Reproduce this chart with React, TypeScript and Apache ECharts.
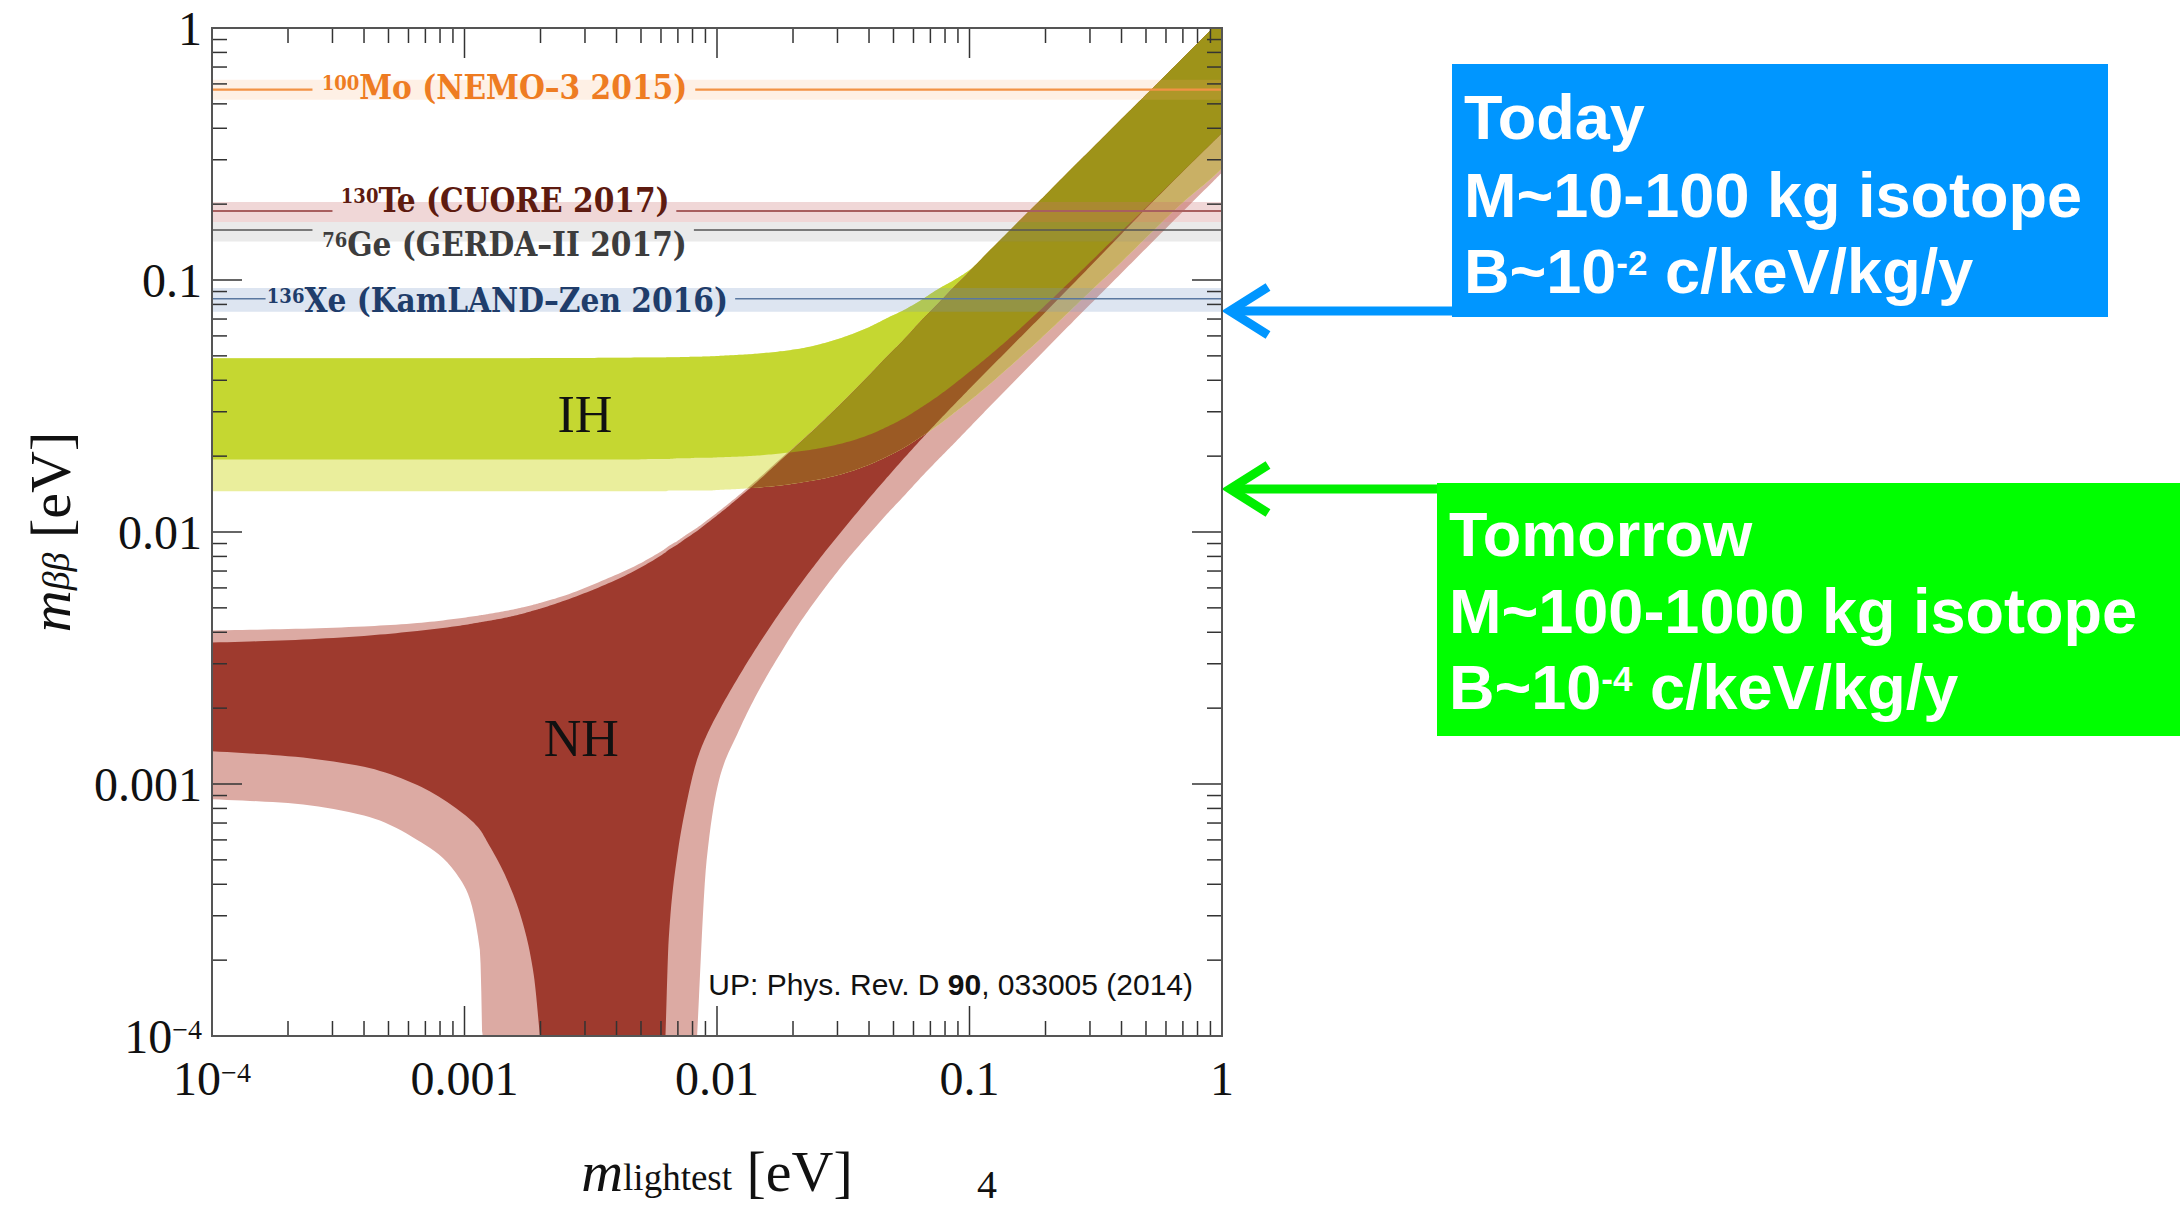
import React, { useEffect, useRef } from "react";
import * as echarts from "echarts";

// ---------------- data ----------------
// lightest neutrino mass grid [eV]
const mLightest = [
  1e-4, 2e-4, 4e-4, 6.5e-4, 9.6e-4, 1.15e-3, 1.23e-3, 1.47e-3, 1.71e-3, 1.88e-3, 1.99e-3,
  2.5e-3, 3.5e-3, 4.7e-3, 5.8e-3, 6.25e-3, 6.44e-3, 6.95e-3, 7.5e-3, 8.34e-3, 9.1e-3, 1.03e-2,
  1.2e-2, 1.44e-2, 1.78e-2, 2.13e-2, 2.56e-2, 3.2e-2, 4.0e-2, 4.7e-2, 5.5e-2, 6.4e-2, 7.5e-2, 8.7e-2,
  0.1, 0.117, 0.14, 0.16, 0.2, 0.25, 0.3, 0.4, 0.5, 0.7, 0.92, 1.0,
];

// Normal hierarchy, full (3 sigma) range
const nhRangeLow = [
  0.00087, 0.00084, 0.00075, 0.0006, 0.00042, 0.00022, 0.00001, 0.00001, 0.00001, 0.00001, 0.00001,
  0.00001, 0.00001, 0.00001, 0.00001, 0.00001, 0.00001, 0.00001, 0.00001, 0.0001, 0.0005, 0.00108,
  0.00157, 0.00228, 0.00329, 0.00437, 0.00566, 0.00755, 0.0098, 0.01175, 0.0139, 0.0164, 0.01935, 0.0225,
  0.026, 0.0306, 0.0368, 0.0422, 0.053, 0.0665, 0.0799, 0.1066, 0.1335, 0.187, 0.2456, 0.267,
];
const nhRangeHigh = [
  0.00407, 0.00412, 0.00422, 0.00435, 0.00455, 0.00467, 0.00472, 0.00487, 0.00503, 0.00515, 0.00523,
  0.0056, 0.0064, 0.0073, 0.0082, 0.0086, 0.0088, 0.0092, 0.0097, 0.0104, 0.0111, 0.0122,
  0.0138, 0.0161, 0.0195, 0.0228, 0.027, 0.0335, 0.042, 0.0497, 0.0582, 0.0687, 0.0807, 0.0942,
  0.1082, 0.1272, 0.1522, 0.1742, 0.2172, 0.2722, 0.3262, 0.4352, 0.5432, 0.7602, 1.0, 1.09,
];
// Normal hierarchy, best-fit band
const nhBestLow = [
  0.00135, 0.00129, 0.00117, 0.00099, 0.00078, 0.00066, 0.00059, 0.00042, 0.000276, 0.000175, 0.0001,
  0.00001, 0.00001, 0.00001, 0.00001, 0.0001, 0.000244, 0.000514, 0.0008, 0.00125, 0.00156, 0.00199,
  0.0026, 0.0035, 0.00481, 0.00618, 0.00788, 0.0104, 0.0136, 0.0164, 0.0196, 0.02317, 0.02745, 0.03206,
  0.037, 0.0434, 0.05208, 0.0596, 0.0746, 0.09375, 0.1131, 0.1524, 0.192, 0.2695, 0.3528, 0.383,
];
const nhBestHigh = [
  0.00364, 0.00372, 0.00387, 0.00405, 0.00425, 0.00438, 0.00443, 0.00458, 0.00475, 0.00488, 0.00496,
  0.00535, 0.0061, 0.007, 0.0079, 0.0083, 0.0085, 0.0089, 0.0094, 0.0101, 0.0108, 0.0119,
  0.0135, 0.0158, 0.0192, 0.0226, 0.0268, 0.0333, 0.0418, 0.0495, 0.058, 0.0685, 0.0805, 0.094,
  0.108, 0.127, 0.152, 0.174, 0.217, 0.272, 0.326, 0.435, 0.543, 0.76, 1.0, 1.09,
];
// Inverted hierarchy, full (3 sigma) range
const ihRangeLow = [
  0.0145, 0.0145, 0.0145, 0.0145, 0.0145, 0.0145, 0.0145, 0.0145, 0.0145, 0.0145, 0.0145,
  0.0145, 0.0145, 0.0145, 0.0145, 0.0145, 0.0146, 0.0146, 0.0146, 0.0146, 0.0146, 0.0147,
  0.0148, 0.015, 0.0153, 0.0157, 0.0162, 0.0171, 0.0185, 0.0199, 0.0216, 0.0238, 0.0265, 0.0297,
  0.0331, 0.0377, 0.0441, 0.0497, 0.061, 0.0754, 0.0898, 0.118, 0.147, 0.203, 0.256, 0.277,
];
const ihRangeHigh = [
  0.0489, 0.0489, 0.0489, 0.0489, 0.0489, 0.0489, 0.0489, 0.0489, 0.0489, 0.049, 0.049,
  0.049, 0.0491, 0.0492, 0.0493, 0.0493, 0.0494, 0.0494, 0.0495, 0.0496, 0.0497, 0.05,
  0.0504, 0.051, 0.0521, 0.0534, 0.0556, 0.0595, 0.065, 0.0705, 0.076, 0.083, 0.092, 0.1,
  0.1095, 0.1275, 0.1525, 0.1745, 0.2175, 0.2725, 0.3265, 0.4355, 0.5435, 0.7605, 1.0, 1.09,
];
// Inverted hierarchy, best-fit band
const ihBestLow = [
  0.0194, 0.0194, 0.0194, 0.0194, 0.0194, 0.0194, 0.0194, 0.0194, 0.0194, 0.0194, 0.0194,
  0.0194, 0.0194, 0.0194, 0.0195, 0.0195, 0.0195, 0.0196, 0.0196, 0.0197, 0.0197, 0.0198,
  0.0199, 0.0201, 0.0205, 0.0209, 0.0215, 0.0226, 0.0243, 0.0261, 0.0283, 0.0311, 0.0346, 0.0387,
  0.0432, 0.0491, 0.0573, 0.0646, 0.0795, 0.0985, 0.1175, 0.156, 0.194, 0.27, 0.353, 0.383,
];
const ihBestHigh = [
  0.0489, 0.0489, 0.0489, 0.0489, 0.0489, 0.0489, 0.0489, 0.0489, 0.0489, 0.049, 0.049,
  0.049, 0.0491, 0.0492, 0.0493, 0.0493, 0.0494, 0.0494, 0.0495, 0.0496, 0.0497, 0.05,
  0.0504, 0.051, 0.0521, 0.0534, 0.0556, 0.0595, 0.065, 0.0705, 0.076, 0.083, 0.092, 0.1,
  0.1095, 0.1275, 0.1525, 0.1745, 0.2175, 0.2725, 0.3265, 0.4355, 0.5435, 0.7605, 1.0, 1.09,
];

// experimental limits on m_bb [eV]
const limitIsotopes = ["100", "130", "76", "136"];
const limitNames = ["Mo (NEMO–3 2015)", "Te (CUORE 2017)", "Ge (GERDA–II 2017)", "Xe (KamLAND–Zen 2016)"];
const limitCentral = [0.569, 0.188, 0.158, 0.0843];
const limitLow = [0.519, 0.17, 0.142, 0.0748];
const limitHigh = [0.623, 0.204, 0.17, 0.0929];

const decadeTicks = [1e-4, 1e-3, 1e-2, 1e-1, 1];
const minorMultipliers = [2, 3, 4, 5, 6, 7, 8, 9];
const regionLabels = ["IH", "NH"];

// ---------------- layout / styles ----------------
const X_MIN = 1e-4, X_MAX = 1, Y_MIN = 1e-4, Y_MAX = 1;
const SERIF = '"Liberation Serif", "Times New Roman", serif';
const COND = '"DejaVu Serif Condensed", "DejaVu Serif", serif';
const SANS = '"Liberation Sans", Arial, Helvetica, sans-serif';

const limitStyle = [
  { band: "rgba(247,170,110,0.18)", line: "#f29245", lw: 2.2, text: "#ee7c22" },
  { band: "rgba(200,110,110,0.28)", line: "#a85f5f", lw: 2, text: "#5e1b10" },
  { band: "rgba(140,140,140,0.18)", line: "#555555", lw: 1.6, text: "#3d3d3d" },
  { band: "rgba(120,150,200,0.25)", line: "#5a78a0", lw: 1.6, text: "#1f3d6b" },
];
const limitLabelAt = [[0.00144, 0.578], [0.00145, 0.206], [0.00144, 0.138], [0.00135, 0.0829]];
const limitGap = [[2.5e-4, 0.0082], [3.0e-4, 0.0069], [2.5e-4, 0.0081], [1.63e-4, 0.0118]];
const regionLabelAt = [[0.003, 0.0293], [0.0029, 0.00152]];

// ---------------- smooth drawing of the band edges (monotone cubic in log-log) ----------------
const LX = mLightest.map((v) => Math.log10(v));
const SUB = 10;
const DX: number[] = (() => {
  const out: number[] = [];
  for (let k = 0; k < LX.length - 1; k++) for (let s = 0; s < SUB; s++) out.push(LX[k] + ((LX[k + 1] - LX[k]) * s) / SUB);
  out.push(LX[LX.length - 1]);
  return out;
})();
function smoothLog(ys: number[]): number[] {
  const n = LX.length;
  const Y = ys.map((v) => Math.log10(v));
  const d: number[] = [];
  for (let k = 0; k < n - 1; k++) d.push((Y[k + 1] - Y[k]) / (LX[k + 1] - LX[k]));
  const m: number[] = new Array(n).fill(0);
  m[0] = d[0];
  m[n - 1] = d[n - 2];
  for (let k = 1; k < n - 1; k++) {
    if (d[k - 1] * d[k] <= 0) m[k] = 0;
    else {
      const h0 = LX[k] - LX[k - 1], h1 = LX[k + 1] - LX[k];
      const w1 = 2 * h1 + h0, w2 = h1 + 2 * h0;
      m[k] = (w1 + w2) / (w1 / d[k - 1] + w2 / d[k]);
    }
  }
  const out: number[] = [];
  for (let k = 0; k < n - 1; k++) {
    const h = LX[k + 1] - LX[k];
    for (let s = 0; s < SUB; s++) {
      const t = s / SUB, t2 = t * t, t3 = t2 * t;
      out.push(
        (2 * t3 - 3 * t2 + 1) * Y[k] + (t3 - 2 * t2 + t) * h * m[k] + (-2 * t3 + 3 * t2) * Y[k + 1] + (t3 - t2) * h * m[k + 1]
      );
    }
  }
  out.push(Y[n - 1]);
  return out;
}
const LYMIN = Math.log10(Y_MIN), LYMAX = Math.log10(Y_MAX);
const clampL = (v: number) => Math.min(LYMAX, Math.max(LYMIN, v));

function intersect(aLo: number[], aHi: number[], bLo: number[], bHi: number[]) {
  const lo = aLo.map((v, i) => Math.max(v, bLo[i]));
  const hi = aHi.map((v, i) => Math.max(lo[i], Math.min(v, bHi[i])));
  return [lo, hi];
}

function bandSeries(name: string, lo: number[], hi: number[], color: string) {
  return {
    type: "custom",
    name,
    silent: true,
    coordinateSystem: "cartesian2d",
    data: [[0.01, 0.01]],
    renderItem: (_p: any, api: any) => {
      const pts: number[][] = [];
      for (let i = 0; i < DX.length; i++) pts.push(api.coord([Math.pow(10, DX[i]), Math.pow(10, clampL(hi[i]))]));
      for (let i = DX.length - 1; i >= 0; i--) pts.push(api.coord([Math.pow(10, DX[i]), Math.pow(10, clampL(lo[i]))]));
      return { type: "polygon", shape: { points: pts }, style: { fill: color } };
    },
  };
}

function limitSeries(k: number) {
  const st = limitStyle[k];
  return {
    type: "custom",
    name: limitIsotopes[k] + limitNames[k],
    silent: true,
    coordinateSystem: "cartesian2d",
    data: [[0.01, limitCentral[k]]],
    renderItem: (_p: any, api: any) => {
      const tl = api.coord([X_MIN, limitHigh[k]]);
      const br = api.coord([X_MAX, limitLow[k]]);
      const ly = api.coord([X_MIN, limitCentral[k]])[1];
      const g0 = api.coord([limitGap[k][0], limitCentral[k]])[0];
      const g1 = api.coord([limitGap[k][1], limitCentral[k]])[0];
      const lp = api.coord(limitLabelAt[k]);
      return {
        type: "group",
        children: [
          { type: "rect", shape: { x: tl[0], y: tl[1], width: br[0] - tl[0], height: br[1] - tl[1] }, style: { fill: st.band } },
          { type: "line", shape: { x1: tl[0], y1: ly, x2: g0, y2: ly }, style: { stroke: st.line, lineWidth: st.lw } },
          { type: "line", shape: { x1: g1, y1: ly, x2: br[0], y2: ly }, style: { stroke: st.line, lineWidth: st.lw } },
          {
            type: "text",
            x: lp[0],
            y: lp[1],
            style: {
              text: `{s|${limitIsotopes[k]}}{m|${limitNames[k]}}`,
              align: "center",
              verticalAlign: "middle",
              rich: {
                s: { fontSize: 20, fontWeight: "bold", fontFamily: COND, fill: st.text, color: st.text, lineHeight: 20, verticalAlign: "top" },
                m: { fontSize: 33, fontWeight: "bold", fontFamily: COND, fill: st.text, color: st.text, lineHeight: 29 },
              },
            },
          },
        ],
      };
    },
  };
}

const regionLabelSeries = {
  type: "custom",
  name: "labels",
  silent: true,
  coordinateSystem: "cartesian2d",
  data: [[0.01, 0.01]],
  renderItem: (_p: any, api: any) => ({
    type: "group",
    children: regionLabels.map((t, i) => {
      const c = api.coord(regionLabelAt[i]);
      return {
        type: "text",
        x: c[0],
        y: c[1],
        style: { text: t, fontSize: 52, fontFamily: SERIF, fill: "#111", align: "center", verticalAlign: "middle" },
      };
    }),
  }),
};

const frameSeries = {
  type: "custom",
  name: "frame",
  silent: true,
  coordinateSystem: "cartesian2d",
  data: [[0.01, 0.01]],
  renderItem: (_p: any, api: any) => {
    const [x0, y0] = api.coord([X_MIN, Y_MIN]);
    const [x1, y1] = api.coord([X_MAX, Y_MAX]);
    const children: any[] = [];
    const tick = { stroke: "#333", lineWidth: 1.5 };
    const addTicks = (v: number, len: number) => {
      const x = api.coord([v, Y_MIN])[0];
      const y = api.coord([X_MIN, v])[1];
      children.push({ type: "line", shape: { x1: x, y1: y0, x2: x, y2: y0 - len }, style: tick });
      children.push({ type: "line", shape: { x1: x, y1: y1, x2: x, y2: y1 + len }, style: tick });
      children.push({ type: "line", shape: { x1: x0, y1: y, x2: x0 + len, y2: y }, style: tick });
      children.push({ type: "line", shape: { x1: x1, y1: y, x2: x1 - len, y2: y }, style: tick });
    };
    decadeTicks.slice(0, 4).forEach((d, i) => {
      if (i > 0) addTicks(d, 30);
      minorMultipliers.forEach((m) => addTicks(m * d, 15));
    });
    children.push({
      type: "rect",
      shape: { x: x0, y: y1, width: x1 - x0, height: y0 - y1 },
      style: { fill: "none", stroke: "#555", lineWidth: 2 },
    });
    return { type: "group", children };
  },
};

const tickLabel = (v: number) => {
  const e = Math.round(Math.log10(v));
  if (e === -4) return "{n|10}{s|−4}";
  const map: Record<number, string> = { [-3]: "0.001", [-2]: "0.01", [-1]: "0.1", [0]: "1" };
  return `{n|${map[e] ?? ""}}`;
};
const tickRich = {
  n: { fontSize: 48, fontFamily: SERIF, color: "#111", lineHeight: 41 },
  s: { fontSize: 28, fontFamily: SERIF, color: "#111", lineHeight: 28, verticalAlign: "top" },
};
const titleRich = {
  m: { fontSize: 58, fontFamily: SERIF, fontStyle: "italic", color: "#111", lineHeight: 50 },
  si: { fontSize: 38, fontFamily: SERIF, fontStyle: "italic", color: "#111", lineHeight: 8, verticalAlign: "bottom" },
  sr: { fontSize: 37, fontFamily: SERIF, color: "#111", lineHeight: 8, verticalAlign: "bottom" },
  u: { fontSize: 58, fontFamily: SERIF, color: "#111", lineHeight: 50 },
};

function boxText(x: number, y: number, text: string) {
  return {
    type: "text",
    x,
    y,
    style: { text, fontSize: 63, fontWeight: "bold", fontFamily: SANS, fill: "#ffffff", align: "left", verticalAlign: "middle" },
  };
}
function boxSupText(x: number, y: number, a: string, sup: string, b: string) {
  return {
    type: "text",
    x,
    y,
    style: {
      text: `{n|${a}}{s|${sup}}{n|${b}}`,
      align: "left",
      verticalAlign: "middle",
      rich: {
        n: { fontSize: 63, fontWeight: "bold", fontFamily: SANS, fill: "#fff", color: "#fff", lineHeight: 51 },
        s: { fontSize: 35, fontWeight: "bold", fontFamily: SANS, fill: "#fff", color: "#fff", lineHeight: 35, verticalAlign: "top" },
      },
    },
  };
}
function arrow(tipX: number, y: number, endX: number, color: string) {
  return [
    { type: "line", shape: { x1: tipX + 4, y1: y, x2: endX, y2: y }, style: { stroke: color, lineWidth: 9 } },
    {
      type: "polyline",
      shape: { points: [[tipX + 42, y - 24], [tipX + 4, y], [tipX + 42, y + 24]] },
      style: { stroke: color, lineWidth: 9, fill: "none" },
    },
  ];
}

export default function App() {
  const ref = useRef<HTMLDivElement>(null);
  useEffect(() => {
    if (!ref.current) return;
    const chart = echarts.init(ref.current, null, { renderer: "svg" });
    const nrLo = smoothLog(nhRangeLow), nrHi = smoothLog(nhRangeHigh);
    const nbLo = smoothLog(nhBestLow), nbHi = smoothLog(nhBestHigh);
    const irLo = smoothLog(ihRangeLow), irHi = smoothLog(ihRangeHigh);
    const ibLo = smoothLog(ihBestLow), ibHi = smoothLog(ihBestHigh);
    const [tanLo, tanHi] = intersect(irLo, irHi, nrLo, nrHi);
    const [brLo, brHi] = intersect(irLo, irHi, nbLo, nbHi);
    const [olLo, olHi] = intersect(ibLo, ibHi, nbLo, nbHi);
    const option: any = {
      animation: false,
      backgroundColor: "#ffffff",
      textStyle: { fontFamily: SERIF },
      grid: { left: 212, top: 28, width: 1010, height: 1010, show: false },
      xAxis: {
        type: "log",
        logBase: 10,
        min: X_MIN,
        max: X_MAX,
        axisLine: { show: false },
        axisTick: { show: false },
        splitLine: { show: false },
        axisLabel: { formatter: tickLabel, margin: 22, rich: tickRich },
        name: "{m|m}{sr|lightest}{u| [eV]}",
        nameLocation: "middle",
        nameGap: 110,
        nameTextStyle: { rich: titleRich },
      },
      yAxis: {
        type: "log",
        logBase: 10,
        min: Y_MIN,
        max: Y_MAX,
        axisLine: { show: false },
        axisTick: { show: false },
        splitLine: { show: false },
        axisLabel: { formatter: tickLabel, margin: 10, rich: tickRich },
        name: "{m|m}{si|ββ}{u| [eV]}",
        nameLocation: "middle",
        nameRotate: 90,
        nameGap: 137,
        nameTextStyle: { rich: titleRich },
      },
      series: [
        bandSeries("NH 3σ", nrLo, nrHi, "#dcaaa3"),
        bandSeries("NH", nbLo, nbHi, "#9e3a2e"),
        bandSeries("IH 3σ", irLo, irHi, "#eaee9c"),
        bandSeries("IH", ibLo, ibHi, "#c5d731"),
        bandSeries("IH 3σ ∩ NH 3σ", tanLo, tanHi, "#c9b065"),
        bandSeries("IH 3σ ∩ NH", brLo, brHi, "#9b5a24"),
        bandSeries("IH ∩ NH", olLo, olHi, "#9e9319"),
        limitSeries(0),
        limitSeries(1),
        limitSeries(2),
        limitSeries(3),
        regionLabelSeries,
        frameSeries,
      ],
      graphic: [
        {
          type: "text",
          x: 1193,
          y: 984,
          style: {
            text: "{n|UP: Phys. Rev. D }{b|90}{n|, 033005 (2014)}",
            align: "right",
            verticalAlign: "middle",
            rich: {
              n: { fontSize: 30, fontFamily: SANS, fill: "#111", color: "#111" },
              b: { fontSize: 30, fontFamily: SANS, fontWeight: "bold", fill: "#111", color: "#111" },
            },
          },
        },
        { type: "text", x: 987, y: 1204, style: { text: "4", fontSize: 40, fontFamily: SERIF, fill: "#111", align: "center", verticalAlign: "bottom" } },
        // Today box
        { type: "rect", shape: { x: 1452, y: 64, width: 656, height: 253 }, style: { fill: "#0096ff" } },
        boxText(1464, 116.5, "Today"),
        boxText(1464, 194.5, "M~10-100 kg isotope"),
        boxSupText(1464, 270.5, "B~10", "-2", " c/keV/kg/y"),
        ...arrow(1226, 311, 1452, "#0096ff"),
        // Tomorrow box
        { type: "rect", shape: { x: 1437, y: 483, width: 743, height: 253 }, style: { fill: "#00ff00" } },
        boxText(1449, 533.5, "Tomorrow"),
        boxText(1449, 610.5, "M~100-1000 kg isotope"),
        boxSupText(1449, 686.5, "B~10", "-4", " c/keV/kg/y"),
        ...arrow(1226, 489, 1437, "#00ee00"),
      ],
    };
    chart.setOption(option);
    return () => chart.dispose();
  }, []);
  return <div ref={ref} style={{ position: "absolute", left: 0, top: 0, width: 2183, height: 1205 }} />;
}
